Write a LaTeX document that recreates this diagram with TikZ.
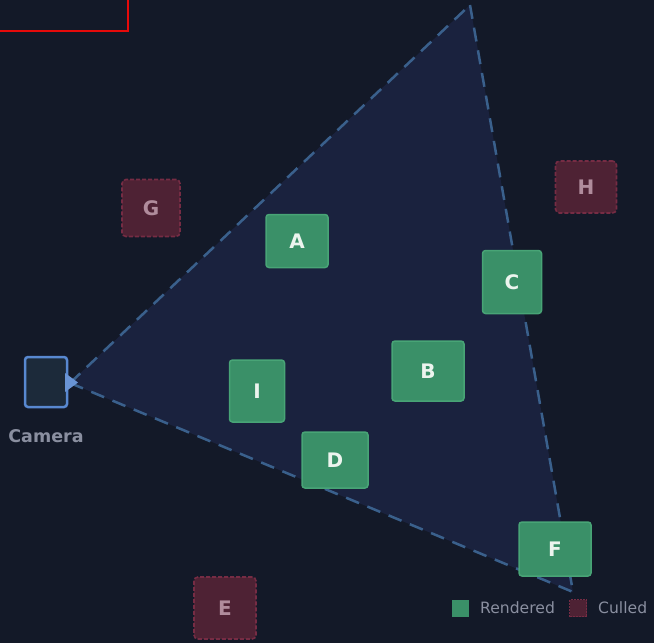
\documentclass[tikz,border=0pt]{standalone}
\usepackage{fontspec}
\setmainfont{DejaVu Sans}
\begin{document}
\begin{tikzpicture}[x=1pt,y=-1pt,
  rendered/.style={draw=rendborder,fill=rendfill,line width=1.5pt,rounded corners=3pt,inner sep=0pt,
    text=rendtext,font=\fontsize{20}{20}\selectfont\bfseries},
  culled/.style={draw=cullborder,fill=cullfill,line width=1.6pt,dash pattern=on 4pt off 2pt,rounded corners=4pt,inner sep=0pt,
    text=culltext,font=\fontsize{20}{20}\selectfont\bfseries},
  frust/.style={draw=frustline,line width=2.5pt,dash pattern=on 14pt off 9pt},
  legtext/.style={text=labelgray,font=\fontsize{15.6}{15.6}\selectfont,anchor=west,inner sep=0pt}
]
\definecolor{bg}{RGB}{19,25,40}
\definecolor{frustfill}{RGB}{26,34,62}
\definecolor{frustline}{RGB}{58,96,140}
\definecolor{rendfill}{RGB}{58,144,104}
\definecolor{rendborder}{RGB}{72,164,118}
\definecolor{rendtext}{RGB}{236,244,238}
\definecolor{cullfill}{RGB}{78,34,52}
\definecolor{cullborder}{RGB}{118,44,68}
\definecolor{culltext}{RGB}{176,140,156}
\definecolor{labelgray}{RGB}{138,143,160}
\definecolor{camfill}{RGB}{28,42,58}
\definecolor{camborder}{RGB}{88,136,208}
\definecolor{redline}{RGB}{230,10,10}

\useasboundingbox (0,0) rectangle (654,643);
\fill[bg] (0,0) rectangle (654,643);

% frustum
\coordinate (apex) at (70,383);
\coordinate (ftop) at (470,5);
\coordinate (fbot) at (573,592);
\fill[frustfill] (apex) -- (ftop) -- (fbot) -- cycle;
\draw[frust] (apex) -- (ftop);
\draw[frust] (ftop) -- (fbot);
\draw[frust] (apex) -- (fbot);

% red rectangle
\draw[redline,line width=2pt] (-5,-5) rectangle (128,31);

% camera
\node[draw=camborder,fill=camfill,line width=2.5pt,rounded corners=3pt,minimum width=42pt,minimum height=50pt,inner sep=0pt] (cam) at (46,382) {};
\fill[camborder!90!white] (65,373) -- (78,382.5) -- (65,392) -- cycle;
\node[text=labelgray,font=\fontsize{17.5}{17.5}\selectfont\bfseries] (camlabel) at (46,436) {Camera};

% rendered boxes
\node[rendered,minimum width=62pt,minimum height=53pt] (A) at (297,241) {A};
\node[rendered,minimum width=59pt,minimum height=63pt] (C) at (512,282) {C};
\node[rendered,minimum width=72pt,minimum height=60pt] (B) at (428,371) {B};
\node[rendered,minimum width=55pt,minimum height=62pt] (I) at (257,391) {I};
\node[rendered,minimum width=66pt,minimum height=56pt] (D) at (335,460) {D};
\node[rendered,minimum width=72pt,minimum height=54pt] (F) at (555,549) {F};

% culled boxes
\node[culled,minimum width=58pt,minimum height=57pt] (G) at (151,208) {G};
\node[culled,minimum width=61pt,minimum height=52pt] (H) at (586,187) {H};
\node[culled,minimum width=62pt,minimum height=62pt] (E) at (225,608) {E};

% legend
\node[fill=rendfill,minimum size=17pt,inner sep=0pt] (legR) at (460,608) {};
\node[legtext] (legRt) at (480,608) {Rendered};
\node[fill=cullfill,draw=cullborder,line width=1pt,dash pattern=on 2pt off 1pt,minimum size=17pt,inner sep=0pt] (legC) at (578,608) {};
\node[legtext] (legCt) at (598,608) {Culled};
\end{tikzpicture}
\end{document}
